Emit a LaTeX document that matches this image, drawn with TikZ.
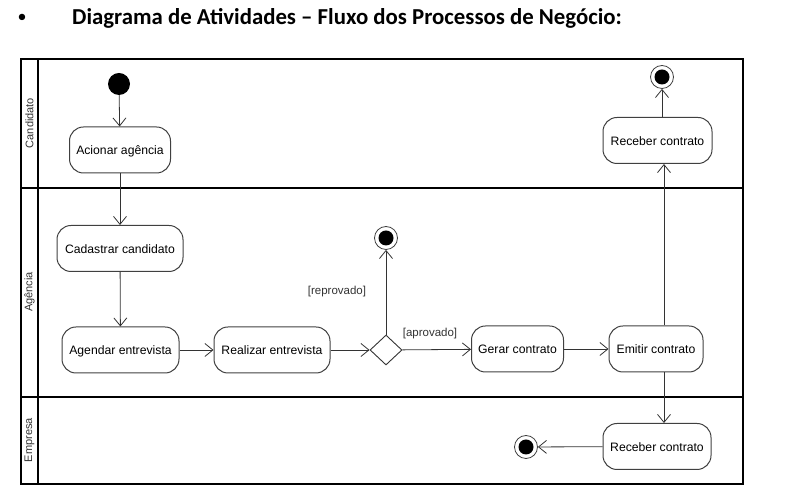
\documentclass[tikz,border=0pt]{standalone}
\usepackage{fontspec}
\setmainfont{Liberation Sans}
\newfontfamily\titlefont{Carlito}
\usetikzlibrary{arrows.meta,shapes.geometric}
\tikzset{
	frame/.style={line width=2pt},%
	activity/.style={draw=black!75,line width=1pt,rounded corners=14pt,minimum height=46pt,inner sep=2pt,text height=10.5pt,text depth=0.5pt,font=\fontsize{12.2}{14}\selectfont},%
	initial/.style={circle,fill=black,minimum size=22pt,inner sep=0pt},%
	final/.style={circle,draw=black!75,thick,minimum size=23pt,inner sep=0pt,path picture={\fill[black] (path picture bounding box.center) circle(7.5pt);}},%
	decision/.style={diamond,draw=black!80,line width=0.9pt,minimum width=32pt,minimum height=30pt,inner sep=0pt},%
	flow/.style={-{Straight Barb[length=8pt,width=13pt]},line width=0.8pt,black!80},%
	guard/.style={font=\fontsize{11.5}{13}\selectfont,black!80},%
	lanelabel/.style={rotate=90,font=\fontsize{11}{13}\selectfont,black!80},%
}
\def\laneleft{21}
\def\laneright{743}
\def\lanehead{38}
\def\lanetop{441}
\def\lanecand{312}
\def\laneemp{103}
\def\lanebottom{16}

\begin{document}
\begin{tikzpicture}[x=1pt,y=1pt]
		\useasboundingbox (0,0) rectangle (785,500);
		% Title {{{
		\node[font=\titlefont\fontsize{18}{24}\selectfont] (bullet) at (22,482) {\textbullet};
		\node[anchor=west,inner sep=0pt,font=\titlefont\bfseries\fontsize{22.8}{26}\selectfont] (title) at (72,482) {Diagrama de Atividades – Fluxo dos Processos de Negócio:};
		% }}}
		% Lanes {{{
		\draw[frame] (\laneleft,\lanetop) rectangle (\laneright,\lanebottom);
		\draw[frame] (\lanehead,\lanetop) -- (\lanehead,\lanebottom);
		\draw[frame] (\laneleft,\lanecand) -- (\laneright,\lanecand);
		\draw[frame] (\laneleft,\laneemp) -- (\laneright,\laneemp);
		\node[lanelabel] (candidato) at (29.5,377) {Candidato};
		\node[lanelabel] (agencia) at (29.5,208) {Agência};
		\node[lanelabel] (empresa) at (29.5,60) {Empresa};
		% }}}
		% Activities {{{
		\node[initial] (inicio) at (119,416) {};
		\node[activity,minimum width=101pt] (acionar) at (120,350) {Acionar agência};
		\node[activity,minimum width=126pt] (cadastrar) at (120,251.5) {Cadastrar candidato};
		\node[activity,minimum width=117pt] (agendar) at (120.5,150) {Agendar entrevista};
		\node[activity,minimum width=116pt] (realizar) at (272,150) {Realizar entrevista};
		\node[decision] (decisao) at (386,150) {};
		\node[final] (fimagencia) at (386,262) {};
		\node[activity,minimum width=92pt] (gerar) at (517.5,151) {Gerar contrato};
		\node[activity,minimum width=94pt] (emitir) at (656,151) {Emitir contrato};
		\node[activity,minimum width=109pt] (recebercand) at (657.5,359.5) {Receber contrato};
		\node[final] (fimcand) at (662,423) {};
		\node[activity,minimum width=108pt] (receberemp) at (657,53.5) {Receber contrato};
		\node[final] (fimemp) at (526,53) {};
		% }}}
		% Flows {{{
		\draw[flow] (inicio) -- (acionar);
		\draw[flow] (acionar) -- (cadastrar);
		\draw[flow] (cadastrar) -- (agendar);
		\draw[flow] (agendar) -- (realizar);
		\draw[flow] (realizar) -- (decisao);
		\draw[flow] (decisao) -- (fimagencia);
		\draw[flow] (decisao) -- (gerar);
		\draw[flow] (gerar) -- (emitir);
		\draw[flow] ([xshift=8pt]emitir.north) -- ([xshift=8pt]emitir.north |- recebercand.south);
		\draw[flow] (recebercand.north -| fimcand) -- (fimcand);
		\draw[flow] ([xshift=8pt]emitir.south) -- ([xshift=8pt]emitir.south |- receberemp.north);
		\draw[flow] (receberemp) -- (fimemp);
		\node[guard] (reprovado) at (337,208) {[reprovado]};
		\node[guard] (aprovado) at (430,166) {[aprovado]};
		% }}}
	\end{tikzpicture}
\end{document}
